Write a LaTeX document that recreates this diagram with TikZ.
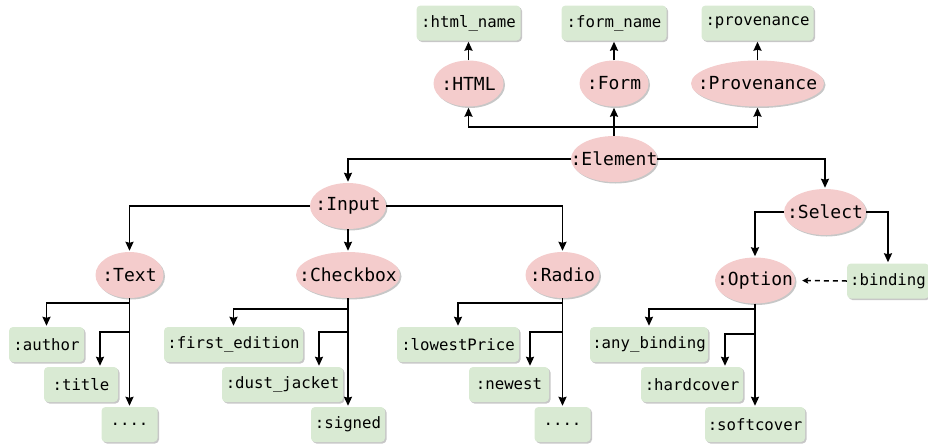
\documentclass[tikz,border=0pt]{standalone}
\usepackage{fontspec}
\setmonofont{DejaVu Sans Mono}
\usetikzlibrary{arrows.meta,shapes.geometric,shadows}
\definecolor{pinkc}{HTML}{F4CCCC}
\definecolor{greenc}{HTML}{D9EAD3}
\begin{document}
\begin{tikzpicture}[x=1pt,y=-1pt,
  shad/.style={drop shadow={shadow xshift=1.5pt,shadow yshift=-1.5pt,opacity=0.22,fill=black}},
  ell/.style={ellipse,fill=pinkc,inner sep=0pt,minimum height=46pt,shad,
    font=\ttfamily\fontsize{18}{20}\selectfont},
  box/.style={rectangle,rounded corners=4pt,fill=greenc,inner sep=0pt,minimum height=35pt,shad,
    font=\ttfamily\fontsize{15.7}{18}\selectfont},
  arr/.style={draw=black,line width=1.7pt,-{Stealth[length=9pt,width=8pt,inset=1pt]},shorten >=1pt},
  darr/.style={draw=black,line width=1.5pt,dash pattern=on 5pt off 4pt,-{Stealth[length=6pt,width=6pt,inset=1pt]},shorten >=7pt}]
\useasboundingbox (0,0) rectangle (928,445);
% top boxes
\node[box,minimum width=104pt] (htmlname) at (468.5,23) {\makebox[0pt]{:html\_name}};
\node[box,minimum width=105pt] (formname) at (614,23) {\makebox[0pt]{:form\_name}};
\node[box,minimum width=112pt] (provname) at (757.5,23) {\makebox[0pt]{:provenance}};
% second row
\node[ell,minimum width=70pt] (html) at (468.5,83.5) {\makebox[0pt]{:HTML}};
\node[ell,minimum width=69pt] (form) at (614,83.5) {\makebox[0pt]{:Form}};
\node[ell,minimum width=133pt] (prov) at (757.5,83.5) {\makebox[0pt]{:Provenance}};
% element
\node[ell,minimum width=86pt] (el) at (614,159) {\makebox[0pt]{:Element}};
\coordinate (jt) at (614,127);
% level 2
\node[ell,minimum width=76pt] (inp) at (348,206) {\makebox[0pt]{:Input}};
\node[ell,minimum width=82pt] (sel) at (825,212) {\makebox[0pt]{:Select}};
% level 3
\node[ell,minimum width=68pt] (txt) at (129.5,275) {\makebox[0pt]{:Text}};
\node[ell,minimum width=104pt] (cb) at (348,275) {\makebox[0pt]{:Checkbox}};
\node[ell,minimum width=74pt] (rad) at (562.5,275) {\makebox[0pt]{:Radio}};
\node[ell,minimum width=80pt] (opt) at (755,280.5) {\makebox[0pt]{:Option}};
\node[box,minimum width=82pt] (bind) at (888,281) {\makebox[0pt]{:binding}};
% leaves
\node[box,minimum width=75pt] (author) at (46.5,344.5) {\makebox[0pt]{:author}};
\node[box,minimum width=74pt] (title) at (81,384.5) {\makebox[0pt]{:title}};
\node[box,minimum width=56pt] (tdots) at (129.5,424.5) {\makebox[0pt]{....}};
\node[box,minimum width=139pt] (fed) at (233.5,344.5) {\makebox[0pt]{:first\_edition}};
\node[box,minimum width=121pt] (dj) at (282.5,384.5) {\makebox[0pt]{:dust\_jacket}};
\node[box,minimum width=74pt] (signed) at (348,424.5) {\makebox[0pt]{:signed}};
\node[box,minimum width=122pt] (low) at (458,344.5) {\makebox[0pt]{:lowestPrice}};
\node[box,minimum width=80pt] (new) at (509,384.5) {\makebox[0pt]{:newest}};
\node[box,minimum width=56pt] (rdots) at (562.5,424.5) {\makebox[0pt]{....}};
\node[box,minimum width=118pt] (anyb) at (649,344.5) {\makebox[0pt]{:any\_binding}};
\node[box,minimum width=102pt] (hard) at (692,384.5) {\makebox[0pt]{:hardcover}};
\node[box,minimum width=100pt] (soft) at (755,424.5) {\makebox[0pt]{:softcover}};
% connectors top
\draw[arr] (html.north) -- (htmlname.south);
\draw[arr] (form.north) -- (formname.south);
\draw[arr] (prov.north) -- (provname.south);
\draw[arr] (el.north) -- (form.south);
\draw[arr] (jt) -| (html.south);
\draw[arr] (jt) -| (prov.south);
% element
\draw[arr] (el.west) -| (inp.north);
\draw[arr] (el.east) -| (sel.north);
% input
\draw[arr] (inp.west) -| (txt.north);
\draw[arr] (inp.south) -- (cb.north);
\draw[arr] (inp.east) -| (rad.north);
% select
\draw[arr] (sel.west) -| (opt.north);
\draw[arr] (sel.east) -| (bind.north);
\draw[darr] (bind.west) -- (opt.east);
% text
\draw[arr] (txt.south) -- (tdots.north);
\draw[arr] (txt.south) ++(0,5) -| (author.north);
\draw[arr] (txt.south) ++(0,34) -| ([xshift=19pt]title.north);
% checkbox
\draw[arr] (cb.south) -- (signed.north);
\draw[arr] (cb.south) ++(0,11) -| (fed.north);
\draw[arr] (cb.south) ++(0,34) -| ([xshift=36.5pt]dj.north);
% radio
\draw[arr] (rad.south) -- (rdots.north);
\draw[arr] (rad.south) ++(0,5) -| (low.north);
\draw[arr] (rad.south) ++(0,34) -| ([xshift=21pt]new.north);
% option
\draw[arr] (opt.south) -- (soft.north);
\draw[arr] (opt.south) ++(0,5.5) -| (anyb.north);
\draw[arr] (opt.south) ++(0,30.5) -| ([xshift=33pt]hard.north);
\end{tikzpicture}
\end{document}
